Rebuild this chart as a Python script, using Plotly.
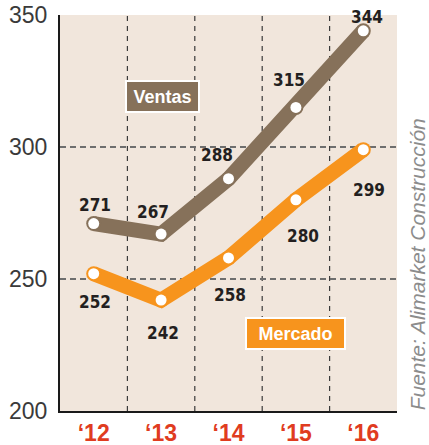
import plotly.graph_objects as go

years = ["‘12", "‘13", "‘14", "‘15", "‘16"]
ventas = [271, 267, 288, 315, 344]
mercado = [252, 242, 258, 280, 299]
y_ticks = [200, 250, 300, 350]

# label offsets in pixels (x, y)
ventas_off = [(1, 19), (-8, 22), (-12, 24), (-7, 27), (4, 14)]
mercado_off = [(1, -28), (2, -33), (1, -37), (7, -36), (6, -40)]

BROWN = "#86715A"
ORANGE = "#F7941D"
BG = "#F1E6DC"
RED = "#E03C1F"
xs = list(range(len(years)))

fig = go.Figure()
for vals, col in [(ventas, BROWN), (mercado, ORANGE)]:
    fig.add_trace(go.Scatter(x=xs, y=vals, mode="lines+markers",
                             line=dict(color=col, width=15),
                             marker=dict(color=col, size=15),
                             cliponaxis=False, hoverinfo="skip"))
    fig.add_trace(go.Scatter(x=xs, y=vals, mode="markers",
                             marker=dict(color="white", size=11),
                             cliponaxis=False, hoverinfo="skip"))

numfont = dict(family="Liberation Sans Narrow, DejaVu Sans Condensed, Arial Narrow, sans-serif",
               size=17, color="#231F20")
anns = []
for vals, offs in [(ventas, ventas_off), (mercado, mercado_off)]:
    for i, (v, (dx, dy)) in enumerate(zip(vals, offs)):
        anns.append(dict(x=i, y=v, text=f"<b>{v}</b>", showarrow=False,
                         xshift=dx, yshift=dy, font=numfont))

boxfont = dict(family="Liberation Sans, Arial, sans-serif", size=18, color="white")
anns.append(dict(xref="paper", yref="paper", x=0.304, y=0.794, text="<b>Ventas</b>",
                 xanchor="center", yanchor="middle",
                 showarrow=False, bgcolor=BROWN, bordercolor="white", borderwidth=2,
                 borderpad=0, width=71, height=29, font=boxfont))
anns.append(dict(xref="paper", yref="paper", x=0.699, y=0.196, text="<b>Mercado</b>",
                 xanchor="center", yanchor="middle",
                 showarrow=False, bgcolor=ORANGE, bordercolor="white", borderwidth=2,
                 borderpad=0, width=97, height=29, font=boxfont))
anns.append(dict(xref="paper", yref="paper", x=1.062, y=0.37,
                 xanchor="center", yanchor="middle",
                 text="<i>Fuente: Alimarket Construcción</i>", textangle=-90,
                 showarrow=False,
                 font=dict(family="Liberation Sans, Arial, sans-serif", size=21, color="#8C8C8C")))

shapes = []
for i in range(len(years) - 1):
    shapes.append(dict(type="line", xref="x", yref="paper", x0=i + 0.5, x1=i + 0.5,
                       y0=0, y1=1, line=dict(color="#3a3a3a", width=1.2, dash="5px,5px"),
                       layer="below"))

fig.update_layout(
    width=429, height=445,
    margin=dict(l=60, r=32, t=15, b=34, autoexpand=False),
    paper_bgcolor="white", plot_bgcolor=BG,
    showlegend=False,
    annotations=anns, shapes=shapes,
    xaxis=dict(range=[-0.5, len(years) - 0.5], tickvals=xs, ticktext=[f"<b>{y}</b>" for y in years],
               showgrid=False, zeroline=False, showline=True, linecolor="#1a1a1a", linewidth=2,
               tickfont=dict(family="Liberation Sans, Arial, sans-serif", size=23, color=RED),
               ticks="", fixedrange=True, automargin=False, ticklabeloverflow="allow"),
    yaxis=dict(range=[200, 350], tickvals=y_ticks, showgrid=True, gridcolor="#6e6e6e",
               gridwidth=1.2, griddash="6px,4px", zeroline=False, showline=True,
               linecolor="#1a1a1a", linewidth=2, ticks="", ticklabelstandoff=6,
               tickfont=dict(family="Liberation Sans, Arial, sans-serif", size=23, color="#3a3a3a"),
               fixedrange=True, automargin=False, ticklabeloverflow="allow"),
)

fig.write_html("out.html", config={"displayModeBar": False, "staticPlot": True},
               post_script="document.body.style.margin='0';document.body.style.overflow='hidden';")
